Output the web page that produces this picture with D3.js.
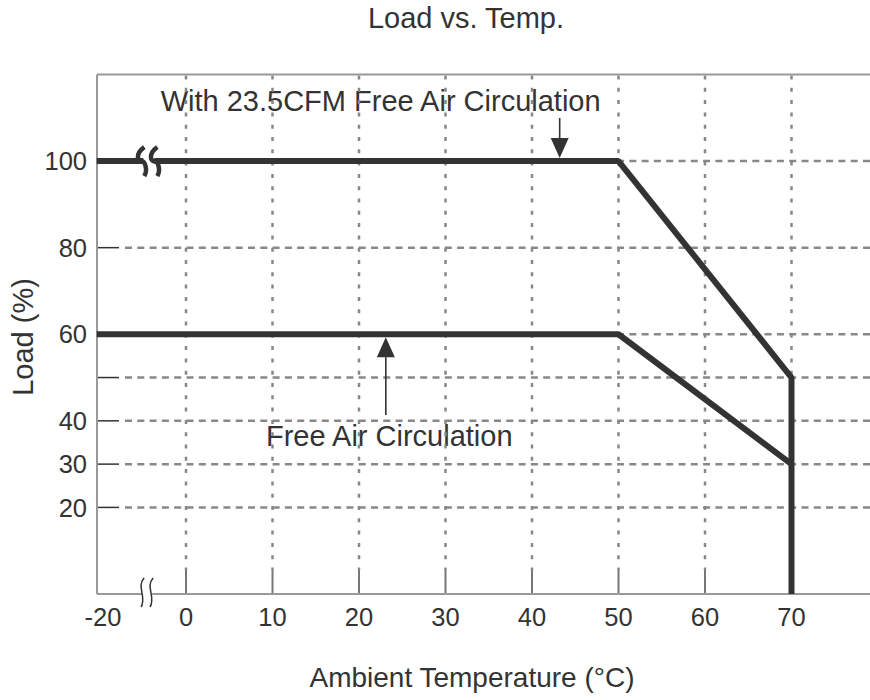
<!DOCTYPE html>
<html><head><meta charset="utf-8">
<script src="https://cdn.jsdelivr.net/npm/d3@7"></script>
<style>html,body{margin:0;padding:0;background:#fff}</style>
</head><body>
<svg id="chart" width="870" height="700"></svg>
<script>
// ---- data ----
const title = "Load vs. Temp.";
const xLabel = "Ambient Temperature (°C)";
const yLabel = "Load (%)";
const xTickValues = [-20, 0, 10, 20, 30, 40, 50, 60, 70];
const xGridValues = [0, 10, 20, 30, 40, 50, 60, 70];
const yTickLabelValues = [20, 30, 40, 60, 80, 100];
const yGridValues = [20, 30, 40, 50, 60, 80, 100];
const xStart = -21.5;           // left edge of the (broken) axis
const yMax = 120;
const fanTemp = [xStart, 50, 70, 70];
const fanLoad = [100, 100, 50, 0];
const freeTemp = [xStart, 50, 70];
const freeLoad = [60, 60, 30];
const fanLabel = "With 23.5CFM Free Air Circulation";
const freeLabel = "Free Air Circulation";
const fanArrowTemp = 43.2;
const freeArrowTemp = 23.1;

(function () {
// ---- layout ----
const svg = d3.select("#chart");
const pL = 97, pR = 870, pT = 74.5, pB = 594;
const ink = "#333", gridC = "#888", frameC = "#999";
const font = "'Liberation Sans', Arial, Helvetica, sans-serif";

const x = d3.scaleLinear().domain([-20, 0, 70]).range([103, 186, 791.5]);
const y = d3.scaleLinear().domain([0, yMax]).range([pB, pT]);

// title & axis labels
svg.append("text").attr("x", 466).attr("y", 28).attr("text-anchor", "middle")
  .attr("font-family", font).attr("font-size", 29).attr("fill", ink).text(title);
svg.append("text").attr("x", 472).attr("y", 687).attr("text-anchor", "middle")
  .attr("font-family", font).attr("font-size", 28).attr("fill", ink).text(xLabel);
svg.append("text").attr("transform", "translate(33,337) rotate(-90)").attr("text-anchor", "middle")
  .attr("font-family", font).attr("font-size", 29).attr("fill", ink).text(yLabel);

// annotation text (drawn beneath grid)
svg.append("text").attr("x", x(22.5)).attr("y", 111).attr("text-anchor", "middle")
  .attr("font-family", font).attr("font-size", 29).attr("fill", ink).text(fanLabel);
svg.append("text").attr("x", x(23.5)).attr("y", 446).attr("text-anchor", "middle")
  .attr("font-family", font).attr("font-size", 29).attr("fill", ink).text(freeLabel);

// grid
svg.append("g").selectAll("line").data(yGridValues).join("line")
  .attr("x1", 125).attr("x2", pR).attr("y1", d => y(d)).attr("y2", d => y(d))
  .attr("stroke", gridC).attr("stroke-width", 2.5).attr("stroke-dasharray", "7,5.3");
svg.append("g").selectAll("line").data(xGridValues).join("line")
  .attr("x1", d => x(d)).attr("x2", d => x(d)).attr("y1", pT + 1).attr("y2", 570)
  .attr("stroke", gridC).attr("stroke-width", 2.5).attr("stroke-dasharray", "4,8.3");

// y axis ticks (inward)
svg.append("g").selectAll("line").data(yGridValues).join("line")
  .attr("x1", pL).attr("x2", 119).attr("y1", d => y(d)).attr("y2", d => y(d))
  .attr("stroke", ink).attr("stroke-width", 1.5);
// x axis ticks (inward)
svg.append("g").selectAll("line").data(xGridValues).join("line")
  .attr("x1", d => x(d)).attr("x2", d => x(d)).attr("y1", 570).attr("y2", pB)
  .attr("stroke", "#777").attr("stroke-width", 2);

// frame
svg.append("line").attr("x1", pL).attr("x2", pR).attr("y1", pT).attr("y2", pT)
  .attr("stroke", frameC).attr("stroke-width", 2);
svg.append("line").attr("x1", pL).attr("x2", pR).attr("y1", pB).attr("y2", pB)
  .attr("stroke", frameC).attr("stroke-width", 2);
svg.append("line").attr("x1", pL).attr("x2", pL).attr("y1", pT).attr("y2", pB)
  .attr("stroke", frameC).attr("stroke-width", 2);

// tick labels
svg.append("g").selectAll("text").data(yTickLabelValues).join("text")
  .attr("x", 87).attr("y", d => y(d)).attr("dy", "0.36em").attr("text-anchor", "end")
  .attr("font-family", font).attr("font-size", 25.5).attr("fill", ink).text(d => d);
svg.append("g").selectAll("text").data(xTickValues).join("text")
  .attr("x", d => x(d)).attr("y", 626).attr("text-anchor", "middle")
  .attr("font-family", font).attr("font-size", 25.5).attr("fill", ink).text(d => d);

// data lines
const line = d3.line().x(d => x(d[0])).y(d => y(d[1]));
svg.append("path").datum(d3.zip(fanTemp, fanLoad)).attr("d", line)
  .attr("fill", "none").attr("stroke", ink).attr("stroke-width", 6).attr("stroke-linejoin", "bevel");
svg.append("path").datum(d3.zip(freeTemp, freeLoad)).attr("d", line)
  .attr("fill", "none").attr("stroke", ink).attr("stroke-width", 6).attr("stroke-linejoin", "bevel");

// break symbol on the 100% line
const bx = x(-9.8), by = y(100);
svg.append("rect").attr("x", bx - 2).attr("y", by - 4).attr("width", 11).attr("height", 8).attr("fill", "#fff");
[bx - 4, bx + 9].forEach(cx => {
  svg.append("path")
    .attr("d", `M${cx + 3},${by - 14} C${cx - 7},${by - 7} ${cx - 3},${by + 1} ${cx},${by} C${cx + 3},${by - 1} ${cx + 7},${by + 8} ${cx + 3},${by + 15}`)
    .attr("fill", "none").attr("stroke", ink).attr("stroke-width", 4.5).attr("stroke-linecap", "butt");
});
// break symbol on x axis
const ax = x(-10.1);
svg.append("rect").attr("x", ax - 2).attr("y", pB - 2).attr("width", 10).attr("height", 4).attr("fill", "#fff");
[ax - 3, ax + 6].forEach(cx => {
  svg.append("path")
    .attr("d", `M${cx + 3},${pB - 16} C${cx - 5},${pB - 7} ${cx + 6},${pB + 3} ${cx},${pB + 13}`)
    .attr("fill", "none").attr("stroke", ink).attr("stroke-width", 1.5);
});

// arrows
function arrow(tx, y1, tipY, dir) {
  const axp = x(tx);
  const headLen = 20, halfW = 9;
  const baseY = tipY - dir * headLen;
  svg.append("line").attr("x1", axp).attr("x2", axp).attr("y1", y1).attr("y2", baseY)
    .attr("stroke", ink).attr("stroke-width", 1.6);
  svg.append("path").attr("d", `M${axp},${tipY} L${axp - halfW},${baseY} L${axp + halfW},${baseY} Z`).attr("fill", ink);
}
arrow(fanArrowTemp, 118, y(100) - 3, 1);
arrow(freeArrowTemp, 415, y(60) + 3, -1);
})();
</script>
</body></html>
